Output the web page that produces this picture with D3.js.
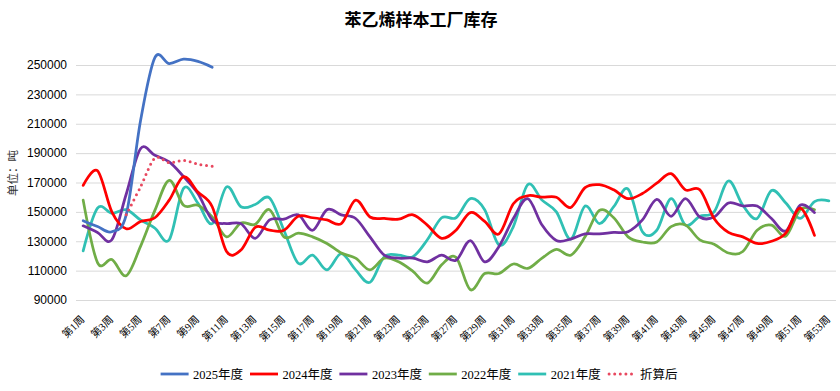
<!DOCTYPE html>
<html><head><meta charset="utf-8">
<script src="https://cdn.jsdelivr.net/npm/d3@7"></script>
<style>body{margin:0;background:#fff}svg{display:block}</style>
</head><body><svg id="c" width="840" height="391"></svg>
<script>
const weeks = ["第1周","第2周","第3周","第4周","第5周","第6周","第7周","第8周","第9周","第10周",
"第11周","第12周","第13周","第14周","第15周","第16周","第17周","第18周","第19周","第20周",
"第21周","第22周","第23周","第24周","第25周","第26周","第27周","第28周","第29周","第30周",
"第31周","第32周","第33周","第34周","第35周","第36周","第37周","第38周","第39周","第40周",
"第41周","第42周","第43周","第44周","第45周","第46周","第47周","第48周","第49周","第50周",
"第51周","第52周","第53周"];
const xTickLabels = ["第1周","第3周","第5周","第7周","第9周","第11周","第13周","第15周","第17周","第19周",
"第21周","第23周","第25周","第27周","第29周","第31周","第33周","第35周","第37周","第39周",
"第41周","第43周","第45周","第47周","第49周","第51周","第53周"];
const yTickValues = [90000,110000,130000,150000,170000,190000,210000,230000,250000];

const s2025 = [144000,140000,136500,148000,212000,255000,251000,254000,252500,248500];
const s2024 = [168000,178000,150000,138500,143500,146000,158000,174000,163500,153500,
123000,124000,139500,137500,137500,147000,146000,144500,142000,158000,
146500,145500,145000,148000,141000,132000,137500,149500,143500,135000,
155500,161000,160000,160000,153000,166500,168500,165000,159000,162500,
169500,176000,165000,165000,145500,136000,133000,128500,130000,135500,
152500,134000];
const s2023 = [140500,136000,131000,162000,193000,188500,184000,174000,162500,144500,
142000,142000,132000,144500,145000,148000,137500,151500,148000,145500,
133000,120500,118500,118500,116000,120500,117000,130500,116000,126500,
145500,159000,141000,130500,131500,135000,135000,136000,136500,144500,
158500,147000,159000,146500,146500,156000,154000,154000,145500,137000,
154500,149500];
const s2022 = [158000,115500,117500,106500,126500,151000,171500,154500,154500,146500,
133000,142500,141500,151500,133000,135500,133000,128500,122000,118500,
110500,118500,116000,109500,101500,114000,119000,97000,108000,108000,
114500,111500,118500,124500,120500,133000,151000,146000,133000,129500,
129500,140000,141000,131000,128000,122000,123000,137500,141000,133500,
151500,151500];
const s2021 = [123500,152500,149000,151500,144500,139000,131000,166000,156000,142000,
167000,153500,155000,159500,137500,115000,120500,110500,121500,110500,
102000,119500,120500,119500,131000,146000,146000,159000,151500,127500,
140000,168500,158000,150000,131500,154000,142000,153500,165500,136500,
137500,159000,141000,147000,150000,171000,154500,145500,164500,156000,
145500,157000,157500];
const sConverted = [null,null,null,148000,167000,186500,183500,185000,182500,181000];

const seriesNames = ["2025年度","2024年度","2023年度","2022年度","2021年度","折算后"];
const seriesData = [s2025,s2024,s2023,s2022,s2021,sConverted];
const seriesColors = ["#4472c4","#ff0000","#7030a0","#70ad47","#30c0b4","#e8485f"];

const svg = d3.select("#c");
svg.append("rect").attr("width",840).attr("height",391).attr("fill","#fff");

const left = 76, right = 836;
const x = d3.scalePoint().domain(weeks).range([left, right]).padding(0.5);
const y = d3.scaleLinear().domain([90000, 250000]).range([300, 65]);

// title
svg.append("text").attr("x", 421).attr("y", 26).attr("text-anchor","middle")
  .attr("font-family","'Noto Sans CJK SC', sans-serif").attr("font-weight","bold")
  .attr("font-size", 17).attr("fill","#000").text("苯乙烯样本工厂库存");

// y axis + grid
const yAxis = d3.axisLeft(y).tickValues(yTickValues).tickSize(-(right-left)).tickPadding(9).tickFormat(d3.format("d"));
svg.append("g").attr("transform", `translate(${left},0)`).call(yAxis)
  .call(g => {
    g.select(".domain").remove();
    g.selectAll(".tick line").attr("stroke","#d9d9d9").attr("stroke-width",1);
    g.selectAll(".tick text").attr("font-family","'Liberation Sans', Arial, sans-serif")
      .attr("font-size",12).attr("fill","#000");
  });

// y title
svg.append("text").attr("transform","translate(17,173) rotate(-90)").attr("text-anchor","middle")
  .attr("font-family","'Noto Sans CJK SC', sans-serif").attr("font-size",11.5).attr("fill","#333")
  .text("单位：吨");

// x axis
const xAxis = d3.axisBottom(x).tickValues(xTickLabels).tickSize(0).tickPadding(0);
svg.append("g").attr("transform","translate(0,300)").call(xAxis)
  .call(g => {
    g.select(".domain").remove();
    g.selectAll(".tick text").attr("y",0).attr("dy",0)
      .attr("transform","translate(1.5,20) rotate(-45)").style("text-anchor","end")
      .attr("font-family","'Liberation Serif', 'Noto Sans CJK SC', serif")
      .attr("font-size",10.5).attr("fill","#000");
  });

// lines
const line = d3.line().defined(d => d != null)
  .x((d,i) => x(weeks[i])).y(d => y(d)).curve(d3.curveCardinal.tension(0));
const order = [4,3,2,1,0,5];
order.forEach(k => {
  const p = svg.append("path").datum(seriesData[k]).attr("d", line)
    .attr("fill","none").attr("stroke", seriesColors[k])
    .attr("stroke-width", 2.75).attr("stroke-linejoin","round").attr("stroke-linecap","round");
  if (k === 5) p.attr("stroke-dasharray","0 5.6").attr("stroke-width",3);
});

// legend
const lg = svg.append("g");
seriesNames.forEach((name, k) => {
  const x0 = 160.6 + k * 89.4;
  const l = lg.append("line").attr("x1", x0).attr("x2", x0 + 28).attr("y1", 374).attr("y2", 374)
    .attr("stroke", seriesColors[k]).attr("stroke-width", 2.8).attr("stroke-linecap", k===5?"round":"butt");
  if (k === 5) l.attr("stroke-dasharray","0 5.6").attr("x1", x0+1.5).attr("stroke-width",3);
  lg.append("text").attr("x", x0 + 32.5).attr("y", 378.5)
    .attr("font-family","'Liberation Serif', 'Noto Sans CJK SC', serif").attr("font-size",12.5)
    .attr("fill","#000").text(name);
});
</script></body></html>
